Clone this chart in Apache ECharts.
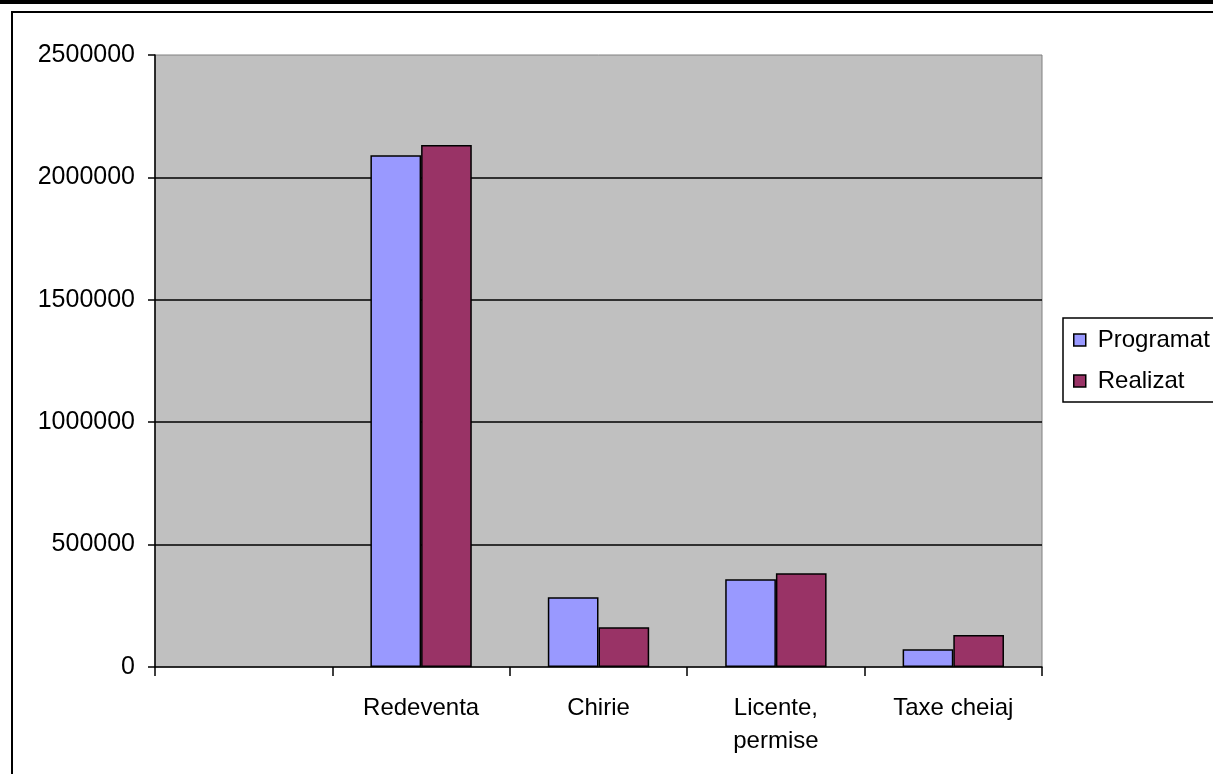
<!DOCTYPE html>
<html>
<head>
<meta charset="utf-8">
<script src="https://cdn.jsdelivr.net/npm/echarts@6/dist/echarts.min.js"></script>
<style>
html,body{margin:0;padding:0;background:#fff;}
#chart{width:1213px;height:774px;}
</style>
</head>
<body>
<div id="chart"></div>
<script>
const categories = ['', 'Redeventa', 'Chirie', 'Licente,\npermise', 'Taxe cheiaj'];
const programat = [null, 2090000, 285000, 358000, 73000];
const realizat = [null, 2132000, 162000, 383000, 131000];
const seriesNames = ['Programat', 'Realizat'];
const yTicks = { min: 0, max: 2500000, interval: 500000 };

const FONT = '"Liberation Sans", Arial, sans-serif';
const chart = echarts.init(document.getElementById('chart'), null, { renderer: 'canvas' });
chart.setOption({
  animation: false,
  backgroundColor: '#ffffff',
  textStyle: { fontFamily: FONT },
  graphic: [
    { type: 'rect', shape: { x: 0, y: 0, width: 1213, height: 4 }, style: { fill: '#000' }, silent: true },
    { type: 'rect', shape: { x: 12, y: 12, width: 1400, height: 1000 }, style: { fill: 'none', stroke: '#000', lineWidth: 2 }, silent: true }
  ],
  grid: {
    left: 155, top: 55, width: 887, height: 612,
    show: true, backgroundColor: '#C0C0C0', borderColor: '#808080', borderWidth: 1
  },
  legend: {
    orient: 'vertical',
    left: 1063, top: 318,
    padding: [9, 12, 8, 10],
    itemGap: 15,
    itemWidth: 12, itemHeight: 12,
    borderColor: '#000', borderWidth: 1.5,
    icon: 'rect',
    itemStyle: { borderColor: '#000', borderWidth: 1.5 },
    textStyle: { fontSize: 24, color: '#000', fontFamily: FONT, lineHeight: 26, padding: [0, 0, 0, 7] },
    data: seriesNames
  },
  xAxis: {
    type: 'category',
    data: categories,
    axisLine: { lineStyle: { color: '#000', width: 1.5 } },
    axisTick: { show: true, length: 9, lineStyle: { color: '#000', width: 1.5 } },
    axisLabel: { interval: 0, fontSize: 24, color: '#000', fontFamily: FONT, margin: 25, lineHeight: 33 },
    splitLine: { show: false }
  },
  yAxis: {
    type: 'value',
    min: yTicks.min, max: yTicks.max, interval: yTicks.interval,
    axisLine: { show: true, lineStyle: { color: '#000', width: 1.5 } },
    axisTick: { show: true, length: 7, lineStyle: { color: '#000', width: 1.5 } },
    axisLabel: { fontSize: 25, color: '#000', fontFamily: FONT, margin: 20, formatter: function (v) { return String(v); } },
    splitLine: { show: true, showMinLine: false, showMaxLine: false, lineStyle: { color: '#000', width: 1.5 } }
  },
  series: [
    {
      name: seriesNames[0], type: 'bar', data: programat,
      barGap: '0%', barCategoryGap: '42.86%',
      itemStyle: { color: '#9999FF', borderColor: '#000', borderWidth: 1.5 }
    },
    {
      name: seriesNames[1], type: 'bar', data: realizat,
      barGap: '0%', barCategoryGap: '42.86%',
      itemStyle: { color: '#993366', borderColor: '#000', borderWidth: 1.5 }
    }
  ]
});
</script>
</body>
</html>
